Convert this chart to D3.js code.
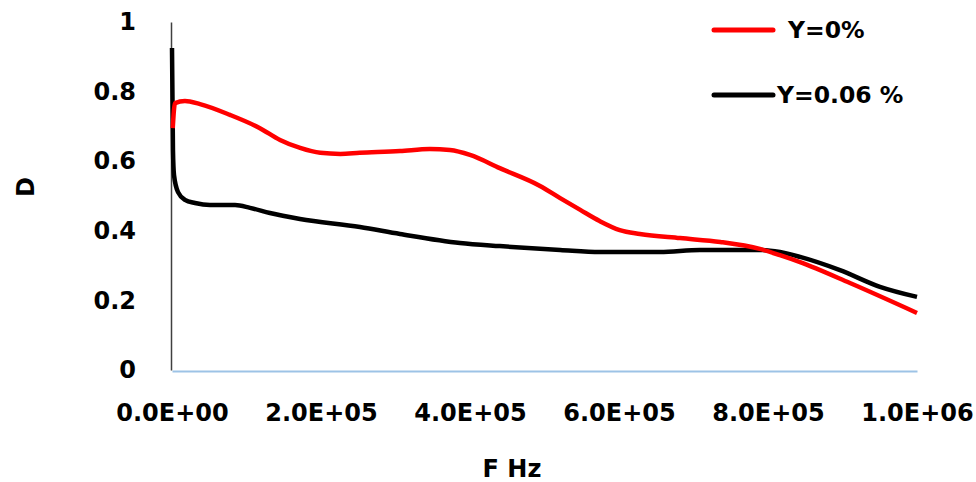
<!DOCTYPE html>
<html>
<head>
<meta charset="utf-8">
<script src="https://cdn.jsdelivr.net/npm/d3@7"></script>
<style>
  html, body { margin: 0; padding: 0; background: #fff; }
  text { font-family: "DejaVu Sans", Verdana, sans-serif; font-weight: bold; fill: #000; }
</style>
</head>
<body>
<svg id="chart" width="976" height="482"></svg>
<script>
// Frequency (Hz) and D readings for each series
const freqY0 = [1000, 4000, 17400, 37600, 77900, 118000, 145000, 172000, 199000, 226000, 252000,
  306000, 346000, 373000, 400000, 440000, 494000, 521000, 548000, 574000, 601000, 628000,
  682000, 736000, 789000, 816000, 843000, 910000, 1000000];
const dY0 = [0.695, 0.767, 0.773, 0.764, 0.733, 0.695, 0.661, 0.638, 0.624, 0.621, 0.624,
  0.629, 0.635, 0.632, 0.618, 0.580, 0.529, 0.494, 0.460, 0.428, 0.402, 0.391,
  0.379, 0.368, 0.348, 0.330, 0.310, 0.250, 0.164];

const freqY006 = [0, 1300, 2700, 8100, 17400, 30900, 51000, 84600, 104700, 131500, 171800,
  252300, 306000, 386600, 440000, 521000, 574500, 655000, 708700, 789300, 816000, 843000,
  896600, 950300, 1000000];
const dY006 = [0.925, 0.632, 0.560, 0.511, 0.489, 0.480, 0.474, 0.474, 0.466, 0.451, 0.434,
  0.411, 0.391, 0.365, 0.356, 0.345, 0.339, 0.339, 0.345, 0.345, 0.339, 0.325,
  0.287, 0.239, 0.210];

const xTicks = [0, 200000, 400000, 600000, 800000, 1000000];
const xTickLabels = ["0.0E+00", "2.0E+05", "4.0E+05", "6.0E+05", "8.0E+05", "1.0E+06"];
const yTicks = [0, 0.2, 0.4, 0.6, 0.8, 1];
const yTickLabels = ["0", "0.2", "0.4", "0.6", "0.8", "1"];

const seriesNames = ["Y=0%", "Y=0.06 %"];
const seriesColors = ["#ff0000", "#000000"];

const svg = d3.select("#chart");
const plot = { left: 172, right: 917, top: 22, bottom: 370 };

const x = d3.scaleLinear().domain([0, 1000000]).range([plot.left, plot.right]);
const y = d3.scaleLinear().domain([0, 1]).range([plot.bottom, plot.top]);

// Horizontal axis: light blue baseline, labels only
const xAxis = d3.axisBottom(x).tickValues(xTicks)
  .tickFormat((d, i) => xTickLabels[i]).tickSize(0).tickPadding(33);
const gx = svg.append("g").attr("transform", `translate(0,${plot.bottom + 1})`).call(xAxis);
gx.select(".domain").attr("stroke", "#9dc3e6").attr("stroke-width", 2);
gx.selectAll("text").style("font-size", "24px");

// Vertical axis: dark line, labels only
const yAxis = d3.axisLeft(y).tickValues(yTicks)
  .tickFormat((d, i) => yTickLabels[i]).tickSize(0).tickPadding(35);
const gy = svg.append("g").attr("transform", `translate(${plot.left - 1},0)`).call(yAxis);
gy.select(".domain").attr("stroke", "#404040").attr("stroke-width", 1.5);
gy.selectAll("text").style("font-size", "24px");

// Curves
const line = d3.line().x(d => x(d[0])).y(d => y(d[1])).curve(d3.curveMonotoneX);
const series = [
  d3.zip(freqY0, dY0),
  d3.zip(freqY006, dY006)
];
// Black first, red drawn on top where they cross
[1, 0].forEach(i => {
  svg.append("path")
    .datum(series[i])
    .attr("fill", "none")
    .attr("stroke", seriesColors[i])
    .attr("stroke-width", 4.5)
    .attr("stroke-linejoin", "round")
    .attr("d", line);
});

// Axis titles
svg.append("text")
  .attr("transform", "translate(34,187) rotate(-90)")
  .attr("text-anchor", "middle")
  .style("font-size", "24px")
  .text("D");
svg.append("text")
  .attr("x", 512).attr("y", 477)
  .attr("text-anchor", "middle")
  .style("font-size", "24px")
  .text("F Hz");

// Legend
const legend = [
  { y: 30, lineX1: 714, lineX2: 773, textX: 788 },
  { y: 95, lineX1: 714, lineX2: 773, textX: 777 }
];
legend.forEach((l, i) => {
  svg.append("line")
    .attr("x1", l.lineX1).attr("x2", l.lineX2)
    .attr("y1", l.y).attr("y2", l.y)
    .attr("stroke", seriesColors[i]).attr("stroke-width", 5)
    .attr("stroke-linecap", "round");
  svg.append("text")
    .attr("x", l.textX).attr("y", l.y)
    .attr("dy", "0.36em")
    .style("font-size", "23.5px")
    .text(seriesNames[i]);
});
</script>
</body>
</html>
